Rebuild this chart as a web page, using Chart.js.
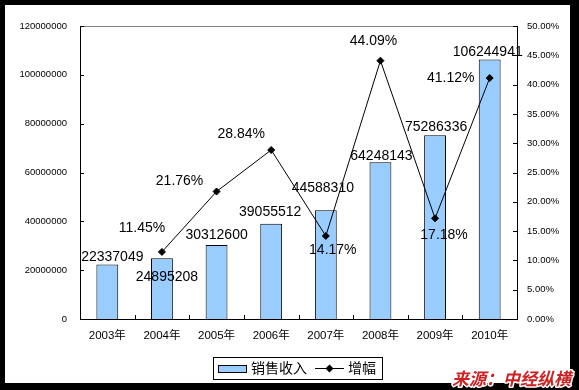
<!DOCTYPE html>
<html>
<head>
<meta charset="utf-8">
<script src="https://cdn.jsdelivr.net/npm/chart.js@4/dist/chart.umd.min.js"></script>
<style>
  html, body { margin: 0; padding: 0; background: #000; }
  #wrap { width: 579px; height: 390px; }
</style>
</head>
<body>
<div id="wrap"><canvas id="chart" width="579" height="390"></canvas></div>
<script>
// data
var years = ['2003年', '2004年', '2005年', '2006年', '2007年', '2008年', '2009年', '2010年'];
var revenue = [22337049, 24895208, 30312600, 39055512, 44588310, 64248143, 75286336, 106244941];
var growth = [null, 11.45, 21.76, 28.84, 14.17, 44.09, 17.18, 41.12];

// where excel put the data labels, relative to the bar top / marker
var barLabelShift = [[5, -7], [5, 19], [0, -10], [-1, -11], [-3, -22], [1, -6], [1, -8], [-2, -7]];
var lineLabelShift = [null, [-20, -24], [-37, -10], [-30, -16], [7, 14], [-7, -19], [9, 17], [-39, 0]];

var numFont = '"Liberation Sans", Arial, sans-serif';
var cjkFont = '"Liberation Sans", "Noto Sans CJK SC", sans-serif';

var frame = {
    id: 'frame',
    beforeDraw: function(chart) {
        var c = chart.ctx;
        c.save();
        c.fillStyle = '#000';
        c.fillRect(0, 0, chart.width, chart.height);
        c.fillStyle = '#fff';
        c.fillRect(5, 5, 565, 378);
        c.restore();
    },
    afterDraw: function(chart) {
        var c = chart.ctx;
        var a = chart.chartArea;
        c.save();
        // grey top edge of the plot
        c.strokeStyle = '#808080';
        c.lineWidth = 1;
        c.beginPath();
        c.moveTo(a.left, a.top + 0.5);
        c.lineTo(a.right, a.top + 0.5);
        c.stroke();

        // inside tick marks
        c.strokeStyle = '#000';
        c.beginPath();
        var y = chart.scales.y;
        y.ticks.forEach(function(t) {
            var py = Math.round(y.getPixelForValue(t.value)) + 0.5;
            c.moveTo(a.left, py);
            c.lineTo(a.left + 4, py);
        });
        var y1 = chart.scales.y1;
        y1.ticks.forEach(function(t) {
            var py = Math.round(y1.getPixelForValue(t.value)) + 0.5;
            c.moveTo(a.right - 4, py);
            c.lineTo(a.right, py);
        });
        var w = (a.right - a.left) / years.length;
        for (var k = 1; k < years.length; k++) {
            var px = Math.round(a.left + k * w) + 0.5;
            c.moveTo(px, a.bottom - 4);
            c.lineTo(px, a.bottom);
        }
        c.stroke();

        // legend
        c.lineWidth = 1;
        c.strokeRect(213.5, 357.5, 169, 22);
        var ds = chart.data.datasets;
        c.fillStyle = ds[1].backgroundColor;
        c.fillRect(218, 365, 29, 8);
        c.strokeRect(218.5, 365.5, 28, 7);
        c.fillStyle = '#000';
        c.font = '14px "Noto Sans CJK SC", sans-serif';
        c.textAlign = 'left';
        c.textBaseline = 'middle';
        c.fillText(ds[1].label, 251, 368);
        c.beginPath();
        c.moveTo(315, 368.5);
        c.lineTo(344, 368.5);
        c.stroke();
        c.beginPath();
        c.moveTo(329.5, 364.5);
        c.lineTo(333.5, 368.5);
        c.lineTo(329.5, 372.5);
        c.lineTo(325.5, 368.5);
        c.closePath();
        c.fill();
        c.fillText(ds[0].label, 348, 368);

        // source note
        c.font = 'italic bold 17px "Noto Sans CJK SC", sans-serif';
        c.textAlign = 'right';
        c.textBaseline = 'alphabetic';
        c.lineWidth = 3;
        c.strokeStyle = '#fff';
        c.lineJoin = 'round';
        c.strokeText('来源：中经纵横', 571, 385);
        c.fillStyle = '#cc2222';
        c.fillText('来源：中经纵横', 571, 385);
        c.restore();
    }
};

var valueLabels = {
    id: 'valueLabels',
    afterDatasetsDraw: function(chart) {
        var c = chart.ctx;
        c.save();
        c.font = '14px ' + numFont;
        c.fillStyle = '#000';
        c.textAlign = 'center';
        c.textBaseline = 'middle';
        chart.getDatasetMeta(1).data.forEach(function(bar, i) {
            var s = barLabelShift[i];
            c.fillText(String(revenue[i]), bar.x + s[0], bar.y + s[1]);
        });
        chart.getDatasetMeta(0).data.forEach(function(pt, i) {
            if (growth[i] === null) return;
            var s = lineLabelShift[i];
            c.fillText(growth[i].toFixed(2) + '%', pt.x + s[0], pt.y + s[1]);
        });
        c.restore();
    }
};

new Chart(document.getElementById('chart'), {
    type: 'bar',
    data: {
        labels: years,
        datasets: [{
            type: 'line',
            label: '增幅',
            data: growth,
            yAxisID: 'y1',
            borderColor: '#000',
            borderWidth: 1,
            backgroundColor: '#000',
            pointStyle: 'rectRot',
            pointRadius: 3.5,
            pointBorderWidth: 1,
            lineTension: 0,
            fill: false,
            order: 0
        }, {
            label: '销售收入',
            data: revenue,
            yAxisID: 'y',
            backgroundColor: '#99ccff',
            borderColor: '#000',
            borderWidth: 1,
            barPercentage: 0.4,
            categoryPercentage: 1,
            order: 1
        }]
    },
    options: {
        responsive: false,
        animation: false,
        devicePixelRatio: 1,
        layout: { padding: { top: 26, left: 0, right: 0, bottom: 0 } },
        plugins: {
            legend: { display: false },
            tooltip: { enabled: false }
        },
        scales: {
            x: {
                grid: { display: false, drawTicks: false },
                border: { display: true, color: '#000', width: 1 },
                ticks: { color: '#000', padding: 10, font: { family: cjkFont, size: 11.5 } },
                afterFit: function(s) { s.height = 71; }
            },
            y: {
                position: 'left',
                min: 0,
                max: 120000000,
                grid: { display: false, drawTicks: false },
                border: { display: true, color: '#000', width: 1 },
                ticks: {
                    stepSize: 20000000,
                    color: '#000',
                    padding: 13,
                    font: { family: numFont, size: 9.5 },
                    callback: function(v) { return String(v); }
                },
                afterFit: function(s) { s.width = 80; }
            },
            y1: {
                position: 'right',
                min: 0,
                max: 50,
                grid: { display: false, drawTicks: false },
                border: { display: true, color: '#000', width: 1 },
                ticks: {
                    stepSize: 5,
                    color: '#000',
                    padding: 10,
                    font: { family: numFont, size: 9.5 },
                    callback: function(v) { return v.toFixed(2) + '%'; }
                },
                afterFit: function(s) { s.width = 62; }
            }
        }
    },
    plugins: [frame, valueLabels]
});
</script>
</body>
</html>
